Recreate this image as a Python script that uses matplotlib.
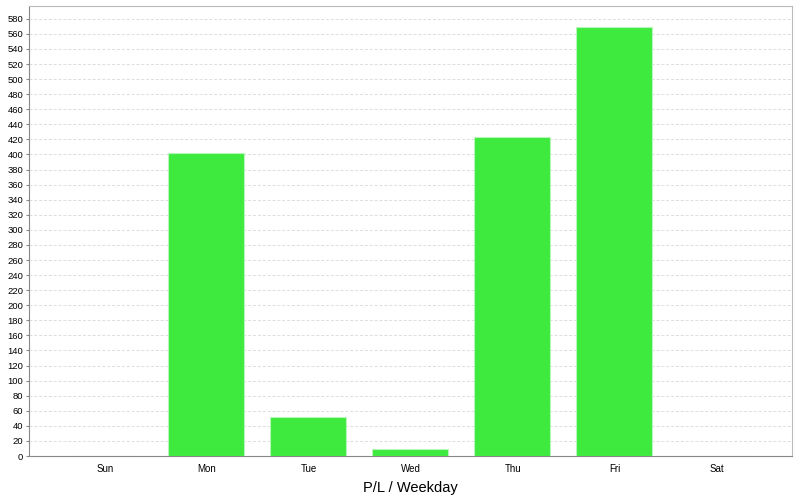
import numpy as np
import matplotlib.pyplot as plt

# P/L per weekday
days = ['Sun', 'Mon', 'Tue', 'Wed', 'Thu', 'Fri', 'Sat']
pnl = [0, 401.5, 51.5, 9.7, 423, 569]

# plot
fig = plt.figure(figsize=(8, 5), dpi=100)
ax = fig.add_axes([0.036, 0.088, 0.954, 0.9])
plt.rcParams['font.family'] = 'Liberation Sans'

x = np.arange(len(days))
vals = pnl + [0]
ax.bar(x - 0.01, vals, width=0.745, color='#3eea3e', edgecolor='#b8f5b8', linewidth=0.8, zorder=3)

ax.set_xlim(-0.745, 6.735)
ax.set_ylim(0, 597)
ax.set_yticks(np.arange(0, 581, 20))
ax.set_xticks(x)
ax.set_xticklabels(days, fontsize=7, family='Liberation Sans')
for lbl in ax.get_yticklabels():
    lbl.set_fontsize(6.8)
    lbl.set_family('Liberation Sans')
ax.tick_params(axis='y', length=2, pad=2, color='#888888')
ax.tick_params(axis='x', length=0, pad=6)

ax.grid(axis='y', linestyle=(0, (3, 2)), color='#dddddd', linewidth=0.7, zorder=0)
for s in ['left', 'bottom']:
    ax.spines[s].set_color('#888888')
for s in ['top', 'right']:
    ax.spines[s].set_color('#bbbbbb')

ax.set_xlabel('P/L / Weekday', fontsize=10.5, family='Liberation Sans', labelpad=5)

plt.savefig('out.png', dpi=100)
